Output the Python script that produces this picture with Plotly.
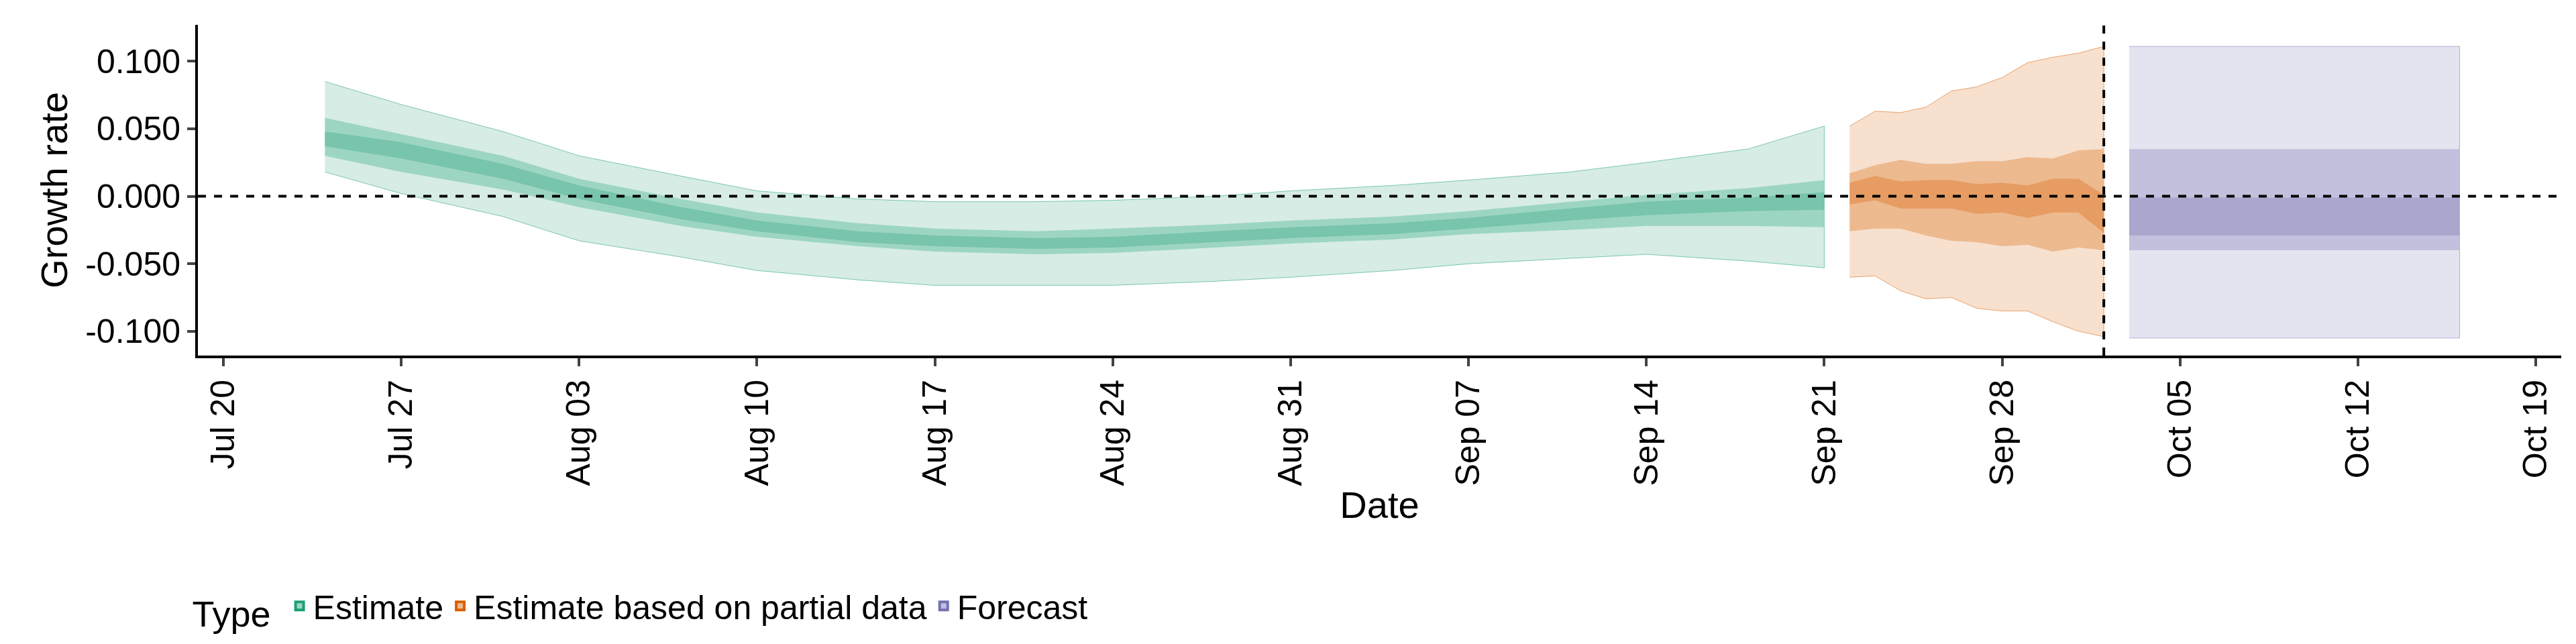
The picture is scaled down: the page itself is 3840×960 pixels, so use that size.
import plotly.graph_objects as go

# Estimate (green)
g_dates = ['2020-07-24', '2020-07-27', '2020-07-31', '2020-08-03', '2020-08-07', '2020-08-10',
           '2020-08-14', '2020-08-17', '2020-08-21', '2020-08-24', '2020-08-28', '2020-08-31',
           '2020-09-04', '2020-09-07', '2020-09-11', '2020-09-14', '2020-09-18', '2020-09-21']
g_lo90 = [0.018, 0.002, -0.015, -0.033, -0.045, -0.055, -0.062, -0.066, -0.066, -0.066, -0.063, -0.060,
          -0.055, -0.050, -0.046, -0.043, -0.048, -0.053]
g_hi90 = [0.085, 0.068, 0.048, 0.030, 0.015, 0.004, -0.002, -0.004, -0.004, -0.003, 0.000, 0.004,
          0.008, 0.012, 0.018, 0.025, 0.035, 0.052]
g_lo50 = [0.030, 0.018, 0.005, -0.008, -0.022, -0.030, -0.037, -0.041, -0.043, -0.042, -0.038, -0.035,
          -0.032, -0.028, -0.025, -0.022, -0.022, -0.023]
g_hi50 = [0.058, 0.046, 0.030, 0.013, -0.002, -0.012, -0.020, -0.024, -0.026, -0.024, -0.021, -0.018,
          -0.015, -0.011, -0.004, 0.001, 0.006, 0.012]
g_lo20 = [0.037, 0.028, 0.013, -0.002, -0.017, -0.026, -0.034, -0.037, -0.039, -0.038, -0.034, -0.031,
          -0.028, -0.024, -0.018, -0.014, -0.011, -0.010]
g_hi20 = [0.048, 0.040, 0.024, 0.008, -0.008, -0.018, -0.026, -0.029, -0.031, -0.030, -0.026, -0.023,
          -0.020, -0.016, -0.009, -0.004, -0.001, 0.003]

# Estimate based on partial data (orange)
o_dates = ['2020-09-22', '2020-09-23', '2020-09-24', '2020-09-25', '2020-09-26', '2020-09-27',
           '2020-09-28', '2020-09-29', '2020-09-30', '2020-10-01', '2020-10-02']
o_hi90 = [0.052, 0.063, 0.062, 0.066, 0.078, 0.081, 0.088, 0.099, 0.103, 0.106, 0.111]
o_lo90 = [-0.060, -0.059, -0.070, -0.076, -0.075, -0.083, -0.085, -0.085, -0.093, -0.100, -0.104]
o_hi50 = [0.017, 0.023, 0.027, 0.024, 0.024, 0.026, 0.026, 0.029, 0.028, 0.034, 0.035]
o_lo50 = [-0.026, -0.024, -0.024, -0.029, -0.033, -0.034, -0.037, -0.036, -0.041, -0.038, -0.040]
o_hi20 = [0.010, 0.015, 0.011, 0.012, 0.012, 0.009, 0.010, 0.008, 0.013, 0.013, 0.001]
o_lo20 = [-0.006, -0.003, -0.009, -0.009, -0.009, -0.013, -0.012, -0.016, -0.012, -0.012, -0.027]

# Forecast (purple)
f_dates = ['2020-10-03', '2020-10-16']
f_hi90 = [0.111, 0.111]
f_lo90 = [-0.105, -0.105]
f_hi50 = [0.035, 0.035]
f_lo50 = [-0.040, -0.040]
f_hi20 = [-0.001, -0.001]
f_lo20 = [-0.029, -0.029]

tick_dates = ['2020-07-20', '2020-07-27', '2020-08-03', '2020-08-10', '2020-08-17', '2020-08-24',
              '2020-08-31', '2020-09-07', '2020-09-14', '2020-09-21', '2020-09-28', '2020-10-05',
              '2020-10-12', '2020-10-19']
tick_text = ['Jul 20', 'Jul 27', 'Aug 03', 'Aug 10', 'Aug 17', 'Aug 24', 'Aug 31', 'Sep 07',
             'Sep 14', 'Sep 21', 'Sep 28', 'Oct 05', 'Oct 12', 'Oct 19']

groups = [
    ('Estimate', g_dates, [(g_lo90, g_hi90), (g_lo50, g_hi50), (g_lo20, g_hi20)],
     ['#D2EBE3', '#9DD5C3', '#78C4AC'], '#1B9E77'),
    ('Estimate based on partial data', o_dates, [(o_lo90, o_hi90), (o_lo50, o_hi50), (o_lo20, o_hi20)],
     ['#F7DDC9', '#EDB98F', '#E69C62'], '#D95F02'),
    ('Forecast', f_dates, [(f_lo90, f_hi90), (f_lo50, f_hi50), (f_lo20, f_hi20)],
     ['#E2E2EF', '#C2C0DD', '#A9A7CD'], '#7570B3'),
]

fig = go.Figure()
for name, dates, bands, fills, edge in groups:
    for i, (lo, hi) in enumerate(bands):
        fig.add_trace(go.Scatter(
            x=dates + dates[::-1], y=hi + lo[::-1], fill='toself', fillcolor=fills[i],
            mode='lines', line=dict(color=edge if i == 0 else fills[i], width=0.6 if i == 0 else 0),
            opacity=1 if i else 0.9, showlegend=False, hoverinfo='skip'))
    # legend key: filled box with coloured border
    fig.add_trace(go.Bar(
        x=[None], y=[None], name=name,
        marker=dict(color=fills[1], line=dict(color=edge, width=4))))

fig.add_hline(y=0, line=dict(color='black', dash='dash', width=4))
fig.add_shape(type='line', xref='x', yref='paper', x0='2020-10-02', x1='2020-10-02', y0=0, y1=1,
              line=dict(color='black', dash='dash', width=4))

fig.update_layout(
    width=3840, height=960, plot_bgcolor='white', paper_bgcolor='white',
    margin=dict(l=287, r=30, t=29, b=438),
    font=dict(family='Liberation Sans, Arial', size=50, color='black'),
    legend=dict(orientation='h', x=0.072, xref='container', y=0.066, yref='container',
                xanchor='left', yanchor='middle', title=dict(text='Type ', font=dict(size=54)),
                font=dict(size=50)),
)
fig.update_xaxes(
    range=['2020-07-19', '2020-10-20'], tickvals=tick_dates, ticktext=tick_text, tickangle=-90,
    showline=True, linecolor='black', linewidth=4, ticks='outside', ticklen=12, tickwidth=4,
    showgrid=False, zeroline=False, title=dict(text='Date', font=dict(size=56), standoff=10),
    tickfont=dict(size=50))
fig.update_yaxes(
    range=[-0.118, 0.127], tickvals=[-0.1, -0.05, 0, 0.05, 0.1],
    ticktext=['-0.100', '-0.050', '0.000', '0.050', '0.100'],
    showline=True, linecolor='black', linewidth=4, ticks='outside', ticklen=12, tickwidth=4,
    showgrid=False, zeroline=False, title=dict(text='Growth rate', font=dict(size=56), standoff=10),
    tickfont=dict(size=50))

fig.write_html('out.html')
